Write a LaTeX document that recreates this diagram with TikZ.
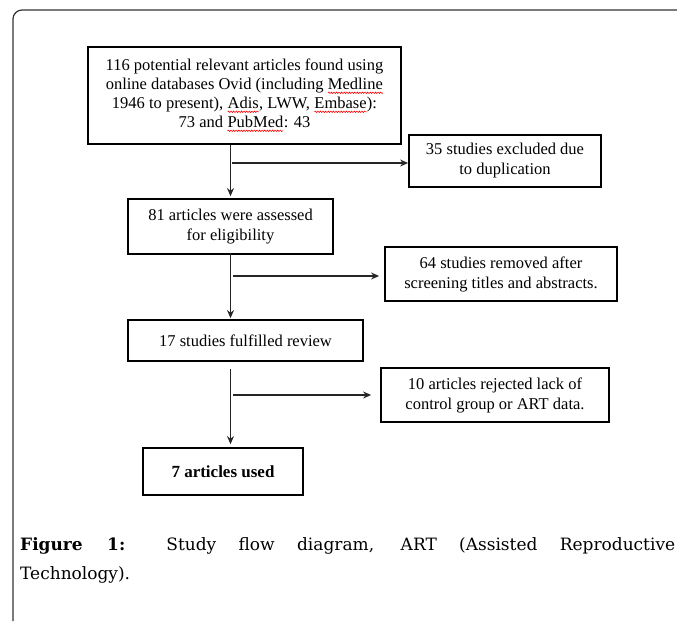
\documentclass[tikz,border=0pt]{standalone}
\usepackage{fontspec}
\setmainfont{Liberation Serif}
\newfontfamily\capfont{DejaVu Serif}
\usetikzlibrary{arrows.meta, positioning, decorations.pathmorphing}
\tikzset{>={Stealth[length=8pt,width=7pt]}}
\tikzset{
  box/.style={draw=black, line width=1.8pt, align=center, inner sep=0pt, font=\fontsize{16.5}{20}\selectfont},
  flow/.style={->, line width=1.2pt, draw=black!85},
  squiggle/.style={draw=red, line width=0.6pt, decorate, decoration={snake, amplitude=0.7pt, segment length=2.6pt}},
}
\newcommand{\spell}[1]{\tikz[baseline=(w.base)]{\node[draw=none, inner sep=0pt, outer sep=0pt, minimum width=0pt, minimum height=0pt] (w) {#1};
    \path[squiggle] ([yshift=-3pt]w.base west) -- ([yshift=-3pt]w.base east);}}

\begin{document}
\begin{tikzpicture}[x=1pt,y=-1pt]
            \useasboundingbox (0,0) rectangle (677,621);
            \draw[line width=1.2pt, draw=black!80, rounded corners=9pt] (13,621) -- (13,10) -- (677,10);

            \node[box, minimum width=313pt, minimum height=97pt, font=\fontsize{16.5}{19}\selectfont] (A) at (244.5,95.5)
                {116 potential relevant articles found using\\ online databases Ovid (including \spell{Medline}\\ 1946 to present), \spell{Adis}, LWW, \spell{Embase}):\\ 73 and \spell{PubMed}: 43};
            \node[box, minimum width=192pt, minimum height=52pt] (B) at (505,161) {35 studies excluded due\\ to duplication};
            \node[box, minimum width=205pt, minimum height=55pt] (C) at (230.5,226.5) {81 articles were assessed\\ for eligibility};
            \node[box, minimum width=232pt, minimum height=54pt] (D) at (501,274) {64 studies removed after\\ screening titles and abstracts.};
            \node[box, minimum width=235pt, minimum height=41pt] (E) at (245.5,340.5) {17 studies fulfilled review};
            \node[box, minimum width=228pt, minimum height=54pt] (F) at (495,395) {10 articles rejected lack of\\ control group or ART data.};
            \node[box, minimum width=160pt, minimum height=47pt, font=\fontsize{17}{20}\selectfont\bfseries] (G) at (223,471.5) {7 articles used};

            \coordinate (H1) at (232,163);
            \coordinate (H2) at (233,276);
            \coordinate (H3) at (233,395);
            \coordinate (V3) at ([yshift=-7pt]E.south -| C.south);

            \draw[flow, shorten >=2pt](A.south -| C.north) -- (C.north);
            \draw[flow](H1) -- (H1 -| B.west);
            \draw[flow, shorten >=1pt]([yshift=2pt]C.south) -- (C.south |- E.north);
            \draw[flow, shorten >=5pt](H2) -- (H2 -| D.west);
            \draw[flow, shorten >=3pt](V3) -- (V3 |- G.north);
            \draw[flow, shorten >=9pt](H3) -- (H3 -| F.west);

            \node[anchor=north west, text width=655pt, inner sep=0pt, align=justify, font=\capfont\fontsize{17}{29}\selectfont] (cap) at (20,537)
                {\hbadness=10000 \textbf{Figure 1:} Study flow diagram, ART (Assisted Reproductive\linebreak Technology).};
\end{tikzpicture}
\end{document}
